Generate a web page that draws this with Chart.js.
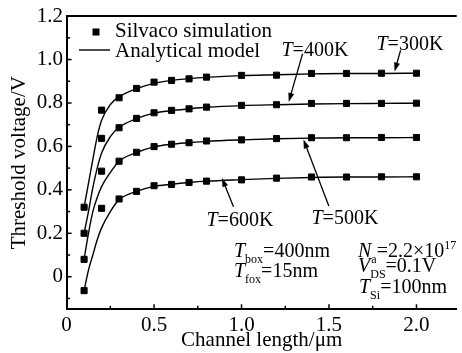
<!DOCTYPE html>
<html>
<head>
<meta charset="utf-8">
<script src="https://cdn.jsdelivr.net/npm/chart.js@4.4.1/dist/chart.umd.min.js"></script>
<style>
  body { margin: 0; background: #fff; }
  #wrap { width: 462px; height: 353px; }
</style>
</head>
<body>
<div id="wrap"><canvas id="vth" width="462" height="353"></canvas></div>
<script>
// Silvaco points (channel length in um, Vth in V)
const simLength = [0.1, 0.2, 0.3, 0.4, 0.5, 0.6, 0.7, 0.8, 1.0, 1.2, 1.4, 1.6, 1.8, 2.0];
const sim300 = [0.32, 0.767, 0.824, 0.867, 0.896, 0.904, 0.911, 0.919, 0.927, 0.928, 0.936, 0.936, 0.937, 0.937];
const sim400 = [0.20, 0.637, 0.686, 0.729, 0.755, 0.766, 0.773, 0.781, 0.789, 0.792, 0.798, 0.798, 0.798, 0.799];
const sim500 = [0.08, 0.486, 0.532, 0.573, 0.599, 0.610, 0.617, 0.625, 0.630, 0.636, 0.640, 0.640, 0.641, 0.641];
const sim600 = [-0.064, 0.315, 0.358, 0.393, 0.419, 0.425, 0.434, 0.440, 0.446, 0.454, 0.459, 0.459, 0.460, 0.460];

// analytical model curves
const modelLength = [0.1, 0.125, 0.15, 0.175, 0.2, 0.25, 0.3, 0.4, 0.5, 0.6, 0.7, 0.8, 1.0, 1.2, 1.4, 1.6, 1.8, 2.0];
const model300 = [0.32, 0.43, 0.54, 0.645, 0.72, 0.793, 0.828, 0.866, 0.89, 0.904, 0.912, 0.918, 0.926, 0.93, 0.934, 0.936, 0.936, 0.937];
const model400 = [0.20, 0.30, 0.41, 0.50, 0.57, 0.645, 0.688, 0.728, 0.753, 0.765, 0.773, 0.78, 0.788, 0.792, 0.795, 0.797, 0.798, 0.799];
const model500 = [0.08, 0.20, 0.30, 0.365, 0.415, 0.48, 0.532, 0.572, 0.598, 0.61, 0.617, 0.623, 0.63, 0.635, 0.638, 0.64, 0.64, 0.641];
const model600 = [-0.064, 0.03, 0.10, 0.17, 0.225, 0.30, 0.355, 0.393, 0.416, 0.426, 0.434, 0.44, 0.447, 0.453, 0.457, 0.459, 0.459, 0.46];

const xTickLabels = ['0', '0.5', '1.0', '1.5', '2.0'];
const yTickLabels = ['0', '0.2', '0.4', '0.6', '0.8', '1.0', '1.2'];

const serif = "'Liberation Serif', 'Times New Roman', serif";
const font = { family: serif, size: 21 };

function pts(xs, ys) {
  return xs.map((x, i) => ({ x: x, y: ys[i] }));
}

function simSet(ys) {
  return {
    label: 'Silvaco simulation',
    data: pts(simLength, ys),
    showLine: false,
    pointStyle: 'rect',
    pointRadius: 4.3,
    pointHoverRadius: 4.3,
    backgroundColor: '#000',
    borderColor: '#000',
    borderWidth: 1
  };
}

function modelSet(ys) {
  return {
    label: 'Analytical model',
    data: pts(modelLength, ys),
    showLine: true,
    borderColor: '#000',
    borderWidth: 1.4,
    pointRadius: 0,
    fill: false,
    cubicInterpolationMode: 'monotone'
  };
}

// text pieces: i = italic, n = normal, sub / sup
function drawRuns(ctx, x, y, runs) {
  runs.forEach(r => {
    let t = r[0], k = r[1], dy = 0;
    if (k === 'i') ctx.font = 'italic 20px ' + serif;
    else if (k === 'sub') { ctx.font = '12px ' + serif; dy = 6; }
    else if (k === 'sup') { ctx.font = '12px ' + serif; dy = -8; }
    else ctx.font = '20px ' + serif;
    ctx.fillText(t, x, y + dy);
    x += ctx.measureText(t).width;
  });
}

function arrow(ctx, x1, y1, x2, y2) {
  const a = Math.atan2(y2 - y1, x2 - x1);
  ctx.beginPath();
  ctx.moveTo(x1, y1);
  ctx.lineTo(x2 - 6 * Math.cos(a), y2 - 6 * Math.sin(a));
  ctx.stroke();
  ctx.beginPath();
  ctx.moveTo(x2, y2);
  ctx.lineTo(x2 - 9 * Math.cos(a) + 3 * Math.sin(a), y2 - 9 * Math.sin(a) - 3 * Math.cos(a));
  ctx.lineTo(x2 - 9 * Math.cos(a) - 3 * Math.sin(a), y2 - 9 * Math.sin(a) + 3 * Math.cos(a));
  ctx.closePath();
  ctx.fill();
}

const extras = {
  id: 'extras',
  afterDraw(chart) {
    const ctx = chart.ctx;
    const a = chart.chartArea;
    const xs = chart.scales.x, ys = chart.scales.y;
    ctx.save();
    ctx.strokeStyle = '#000';
    ctx.fillStyle = '#000';

    // top frame line
    ctx.lineWidth = 2;
    ctx.beginPath();
    ctx.moveTo(a.left, a.top);
    ctx.lineTo(a.right, a.top);
    ctx.stroke();

    // inward ticks
    ctx.lineWidth = 1.5;
    for (let i = -1; i <= 12; i++) {
      const py = ys.getPixelForValue(i / 10);
      const len = i % 2 === 0 ? 5 : 3.5;
      ctx.beginPath();
      ctx.moveTo(a.left, py);
      ctx.lineTo(a.left + len, py);
      ctx.stroke();
    }
    for (let i = 1; i <= 8; i++) {
      const px = xs.getPixelForValue(i * 0.25);
      const len = i % 2 === 0 ? 5 : 3.5;
      ctx.beginPath();
      ctx.moveTo(px, a.bottom);
      ctx.lineTo(px, a.bottom - len);
      ctx.stroke();
    }

    // legend
    ctx.fillRect(92.5, 28.5, 7, 7);
    ctx.lineWidth = 1.4;
    ctx.beginPath();
    ctx.moveTo(79, 50);
    ctx.lineTo(110, 50);
    ctx.stroke();
    ctx.font = '21px ' + serif;
    ctx.textBaseline = 'alphabetic';
    ctx.fillText('Silvaco simulation', 115, 36.5);
    ctx.fillText('Analytical model', 115, 57);

    // temperature labels
    drawRuns(ctx, 281.5, 55.5, [['T', 'i'], ['=400K', 'n']]);
    drawRuns(ctx, 376.5, 50, [['T', 'i'], ['=300K', 'n']]);
    drawRuns(ctx, 311.5, 224, [['T', 'i'], ['=500K', 'n']]);
    drawRuns(ctx, 206.5, 226, [['T', 'i'], ['=600K', 'n']]);

    ctx.lineWidth = 1.3;
    const P = (x, y) => [xs.getPixelForValue(x), ys.getPixelForValue(y)];
    arrow(ctx, ...P(1.349, 1.027), ...P(1.27, 0.805));
    arrow(ctx, ...P(1.909, 1.042), ...P(1.875, 0.945));
    arrow(ctx, ...P(1.499, 0.326), ...P(1.354, 0.632));
    arrow(ctx, ...P(0.954, 0.322), ...P(0.888, 0.455));

    // device parameters
    drawRuns(ctx, 234, 257, [['T', 'i'], ['box', 'sub'], ['=400nm', 'n']]);
    drawRuns(ctx, 234, 277, [['T', 'i'], ['fox', 'sub'], ['=15nm', 'n']]);
    drawRuns(ctx, 358, 257, [['N', 'i'], ['a', 'sub'], ['=2.2×10', 'n'], ['17', 'sup']]);
    drawRuns(ctx, 358, 271.5, [['V', 'i'], ['DS', 'sub'], ['=0.1V', 'n']]);
    drawRuns(ctx, 359, 293, [['T', 'i'], ['Si', 'sub'], ['=100nm', 'n']]);
    ctx.restore();
  }
};

new Chart(document.getElementById('vth'), {
  type: 'scatter',
  data: {
    datasets: [
      simSet(sim300), simSet(sim400), simSet(sim500), simSet(sim600),
      modelSet(model300), modelSet(model400), modelSet(model500), modelSet(model600)
    ]
  },
  options: {
    responsive: false,
    animation: false,
    events: [],
    layout: { padding: { top: 15.7, right: 0, bottom: 0, left: 0 } },
    plugins: {
      legend: { display: false },
      tooltip: { enabled: false }
    },
    scales: {
      x: {
        type: 'linear',
        min: 0,
        max: 2.23,
        afterBuildTicks: s => { s.ticks = xTickLabels.map(t => ({ value: parseFloat(t) })); },
        afterFit: s => { s.height = 43.7; },
        ticks: {
          callback: (v, i) => xTickLabels[i],
          font: font,
          color: '#000',
          padding: 4,
          maxRotation: 0,
          autoSkip: false
        },
        grid: { display: false, drawTicks: false },
        border: { display: true, color: '#000', width: 2 },
        title: {
          display: true,
          text: 'Channel length/μm',
          font: font,
          color: '#000',
          padding: { top: 0, bottom: 0 }
        }
      },
      y: {
        type: 'linear',
        min: -0.15,
        max: 1.2,
        afterBuildTicks: s => { s.ticks = yTickLabels.map(t => ({ value: parseFloat(t) })); },
        afterFit: s => { s.width = 66.6; },
        ticks: {
          callback: (v, i) => yTickLabels[i],
          font: font,
          color: '#000',
          padding: 3.5,
          autoSkip: false
        },
        grid: { display: false, drawTicks: false },
        border: { display: true, color: '#000', width: 2 },
        title: {
          display: true,
          text: 'Threshold voltage/V',
          font: font,
          color: '#000',
          padding: { top: 7, bottom: 0 }
        }
      }
    }
  },
  plugins: [extras]
});
</script>
</body>
</html>
